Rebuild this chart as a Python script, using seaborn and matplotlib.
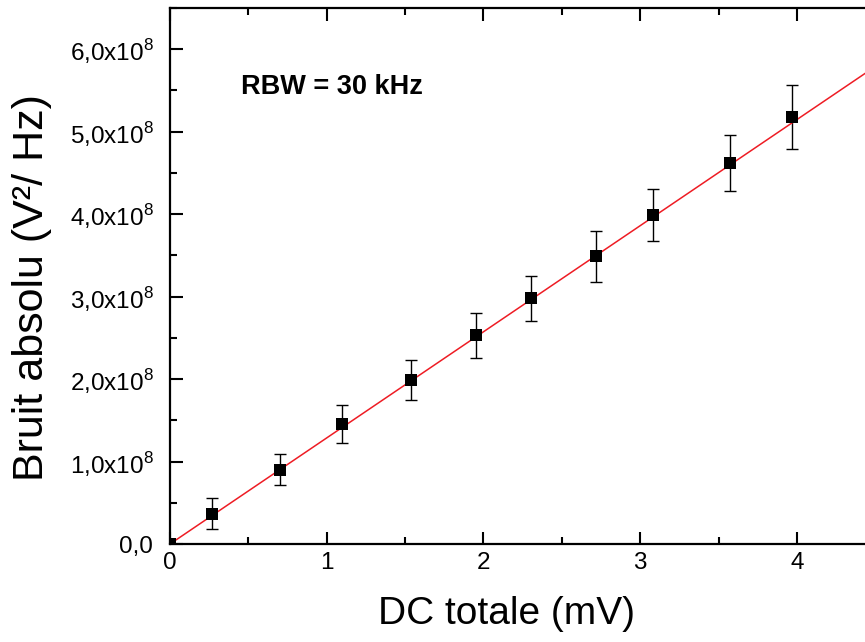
import numpy as np
import pandas as pd
import matplotlib
matplotlib.use("Agg")
import matplotlib.pyplot as plt
import seaborn as sns
from matplotlib.ticker import MultipleLocator, FuncFormatter

# measured points (DC in mV, noise in 1e8 V^2/Hz)
dc_mv = [0.0, 0.27, 0.70, 1.10, 1.54, 1.95, 2.30, 2.72, 3.08, 3.57, 3.97]
bruit = [0.0, 0.37, 0.90, 1.46, 1.99, 2.53, 2.98, 3.49, 3.99, 4.62, 5.18]
bruit_err = [0.0, 0.19, 0.19, 0.23, 0.24, 0.27, 0.27, 0.31, 0.32, 0.34, 0.39]

# linear fit through origin
fit_x = [0.0, 4.6]
fit_slope = 1.287

df = pd.DataFrame({"dc": dc_mv, "bruit": np.array(bruit) * 1e8,
                   "err": np.array(bruit_err) * 1e8})
fit_df = pd.DataFrame({"dc": fit_x, "bruit": np.array(fit_x) * fit_slope * 1e8})

sns.set_style("ticks")
plt.rcParams["font.family"] = ["Liberation Sans", "DejaVu Sans"]
plt.rcParams["mathtext.fontset"] = "custom"
plt.rcParams["mathtext.rm"] = "Liberation Sans"
for k in ["text.color", "axes.labelcolor", "xtick.color", "ytick.color"]:
    plt.rcParams[k] = "black"

fig = plt.figure(figsize=(8.65, 6.42), dpi=100)
ax = fig.add_axes([0.1965, 0.1526, 0.8155, 0.8349])

ax.errorbar(df["dc"], df["bruit"], yerr=df["err"], fmt="none",
            ecolor="black", elinewidth=1.0, capsize=4, capthick=1.0, zorder=2)
sns.lineplot(data=fit_df, x="dc", y="bruit", ax=ax, color="#ee1c24",
             linewidth=1.1, zorder=3)
sns.scatterplot(data=df, x="dc", y="bruit", ax=ax, marker="s", s=85,
                color="black", edgecolor="black", linewidth=0, zorder=4)

ax.set_xlim(0, 4.5)
ax.set_ylim(0, 6.5e8)

ax.xaxis.set_major_locator(MultipleLocator(1))
ax.xaxis.set_minor_locator(MultipleLocator(0.5))
ax.yaxis.set_major_locator(MultipleLocator(1e8))
ax.yaxis.set_minor_locator(MultipleLocator(0.5e8))


def fmt_y(v, pos):
    if abs(v) < 1:
        return "0,0"
    return ("%.1f" % (v / 1e8)).replace(".", ",") + r"x10$^{\mathregular{8}}$"


ax.yaxis.set_major_formatter(FuncFormatter(fmt_y))
ax.tick_params(which="both", direction="in", top=True, right=False,
               width=1.5, labelsize=17.5)
ax.tick_params(which="major", length=9)
ax.tick_params(which="minor", length=5)
ax.tick_params(axis="x", which="major", pad=6)
ax.tick_params(axis="y", which="major", pad=12)
for sp in ax.spines.values():
    sp.set_linewidth(1.6)
    sp.set_color("black")

ax.set_xlabel("DC totale (mV)", fontsize=28)
ax.xaxis.set_label_coords(0.4766, -0.097)
ax.set_ylabel("Bruit absolu (V²/ Hz)", fontsize=31)
ax.yaxis.set_label_coords(-0.167, 0.478)

ax.text(1.035, 5.54e8, "RBW = 30 kHz", fontsize=19.5, fontweight="bold",
        va="center", ha="center")

fig.savefig("out.png", dpi=100)
